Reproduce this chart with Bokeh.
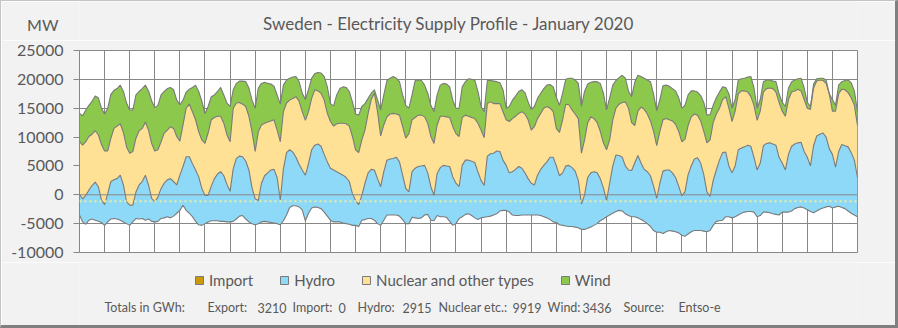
import numpy as np
from bokeh.plotting import figure
from bokeh.layouts import column
from bokeh.models import (ColumnDataSource, Range1d, FixedTicker, Span, Label,
                          Legend, LegendItem, LinearAxis)
from bokeh.embed import file_html
from bokeh.resources import INLINE

# ---------------- data (MW, one sample every 3 h) -------------
title_text = "Sweden - Electricity Supply Profile - January 2020"
unit_label = "MW"
series_names = ["Import", "Hydro", "Nuclear and other types", "Wind"]
series_colors = ["#CC980C", "#8ED8F8", "#FFE195", "#8CC84B"]
y_ticks = [-10000, -5000, 0, 5000, 10000, 15000, 20000, 25000]
y_tick_labels = ["-10000", "-5000", "0", "5000", "10000", "15000", "20000", "25000"]
days_in_month = 31
sample_step_h = 3

totals_title = "Totals in GWh:"
totals_names = ["Export:", "Import:", "Hydro:", "Nuclear etc.:", "Wind:"]
totals_gwh = [3210, 0, 2915, 9919, 3436]
source_title = "Source:"
source_name = "Entso-e"
dotted_level = -1100

# lower edge of the stack (export shown as negative)
export_edge = [
    -3500, -4700, -5100, -4400, -4200, -4400, -4600, -4800,
    -5300, -4700, -4200, -4100, -4200, -4400, -4700, -5000,
    -5300, -4700, -4100, -4200, -4100, -4400, -4200, -4600,
    -4700, -4600, -4100, -4000, -3800, -4000, -3700, -3200,
    -2700, -1800, -2700, -3200, -3800, -4600, -5200, -5300,
    -5000, -4700, -4500, -4500, -4500, -4600, -4600, -4700,
    -4700, -4600, -4200, -3700, -3600, -4200, -4700, -5000,
    -5200, -5000, -4700, -4600, -4700, -4800, -4900, -5000,
    -5200, -4500, -3500, -2200, -1900, -1900, -2100, -2600,
    -4500, -3200, -2300, -2100, -2200, -2400, -3000, -3700,
    -4400, -4700, -4700, -4700, -4900, -5000, -5100, -5300,
    -5300, -5500, -4400, -4300, -4100, -4100, -4400, -5000,
    -5300, -4400, -3500, -3500, -3500, -3500, -3700, -4300,
    -5000, -5000, -3900, -4000, -4100, -4000, -3500, -3400,
    -4400, -4500, -3600, -3800, -3800, -3900, -4600, -5300,
    -5000, -4100, -3800, -3400, -3300, -3600, -4000, -4300,
    -4000, -3900, -3800, -3700, -3500, -3300, -2800, -2700,
    -2700, -3000, -3500, -3600, -3600, -3500, -3500, -3500,
    -3500, -3500, -3500, -3600, -3800, -4000, -4300, -4700,
    -4800, -5200, -5300, -5400, -5500, -5500, -5600, -5700,
    -6000, -6000, -5800, -5600, -5300, -5000, -4500, -4200,
    -3800, -3500, -3200, -2900, -2700, -2800, -3300, -3600,
    -3800, -3800, -4000, -4300, -4600, -5000, -5500, -6200,
    -6500, -6500, -6700, -6400, -6200, -6300, -6400, -6600,
    -7000, -7200, -6800, -6400, -6200, -6200, -6200, -6300,
    -6400, -6200, -5300, -4600, -4500, -4400, -3800, -3800,
    -4000, -3800, -3500, -3200, -3000, -2900, -2900, -3000,
    -3800, -3600, -3000, -3000, -3100, -3300, -3400, -3500,
    -3000, -3000, -3000, -2800, -2400, -2200, -2100, -2300,
    -2600, -2900, -3100, -2800, -2500, -2300, -2100, -2000,
    -2300, -2100, -2000, -2200, -2400, -2800, -3200, -3500,
    -3800,
]

# top of the hydro band
hydro_edge = [
    100, -700, -100, 800, 1600, 2200, 1400, -900,
    -1700, 200, 2300, 2600, 2800, 3400, 1700, -1200,
    -1800, -1800, 500, 1700, 2300, 3400, 1700, -600,
    -1200, -400, 1100, 2000, 2600, 2800, 2300, 1700,
    3400, 4900, 6600, 6600, 5400, 4300, 3100, 1100,
    -100, -100, 1500, 2800, 3600, 4000, 3300, 1800,
    600, 4500, 6300, 6700, 6600, 5800, 4300, 1200,
    -700, -1000, 2000, 3300, 3800, 4300, 4400, 3000,
    -900, 4500, 7300, 7800, 7400, 6500, 5300, 4300,
    3400, 5400, 7800, 8600, 8800, 8400, 7000, 5700,
    4600, 4300, 4000, 3700, 3400, 3000, 2300, 200,
    -1000, -1700, -100, 2000, 3800, 4400, 4300, 2800,
    1400, 4000, 6000, 6200, 6300, 6500, 5700, 3400,
    1100, 500, 4000, 4600, 4900, 5000, 5100, 3800,
    1400, -100, 3700, 4700, 5100, 5000, 4900, 3100,
    2000, 1400, 5100, 6000, 6000, 5800, 5600, 4000,
    2500, 1600, 6700, 7100, 7200, 7600, 7500, 6000,
    5100, 3800, 4000, 4400, 4900, 4600, 3800, 2800,
    2000, 1700, 3400, 4400, 5100, 5700, 6500, 6500,
    5000, 3300, 3800, 5000, 5100, 4700, 4100, 2500,
    -1600, 0, 3000, 3800, 4000, 3800, 2800, 1200,
    -1000, 2000, 5000, 6900, 6800, 6500, 5000, 4300,
    4200, 5500, 6800, 5500, 4400, 4000, 3300, 1500,
    -600, 2000, 4100, 4300, 4300, 3800, 3000, 1500,
    -200, 500, 3500, 5000, 6200, 6400, 5500, 3500,
    500, -300, 2500, 4300, 6000, 7300, 7400, 5000,
    3800, 5000, 7800, 8100, 8300, 8600, 8400, 6500,
    4300, 5500, 8500, 8900, 9000, 8800, 8600, 6500,
    5500, 4300, 7000, 8400, 8800, 9000, 9100, 7500,
    6500, 5000, 8500, 10200, 10500, 10700, 10000, 8000,
    7000, 4800, 7500, 8700, 8500, 8300, 7300, 6000,
    3000,
]

# top of the "nuclear and other types" band
nuclear_edge = [
    9200, 8600, 9200, 10100, 10500, 11100, 10400, 8700,
    7600, 7600, 9800, 11500, 11900, 12300, 10800, 8300,
    7200, 7500, 9800, 11100, 11500, 12600, 11200, 8900,
    7600, 7800, 9200, 10700, 11200, 11800, 11500, 10100,
    9300, 12100, 15000, 15700, 14400, 13000, 10900, 9500,
    8900, 10700, 13000, 13400, 13600, 13600, 12400, 10400,
    9200, 15000, 15900, 16000, 15700, 15300, 13600, 10900,
    7500, 10900, 12100, 12400, 12600, 12800, 13000, 11200,
    9200, 14400, 15900, 16400, 16700, 17000, 16200, 14400,
    12900, 14400, 16700, 18200, 18000, 17600, 16400, 14100,
    12700, 11900, 12300, 12400, 12400, 12300, 11900, 10100,
    7800, 7300, 9500, 11200, 14100, 16500, 17600, 14400,
    10200, 12100, 13500, 14000, 14100, 14000, 13800, 11800,
    9800, 10600, 13000, 13400, 13800, 13800, 13500, 12400,
    10100, 8900, 12100, 13600, 13600, 13500, 13400, 11800,
    10600, 10100, 13400, 13800, 13600, 13400, 13200, 12400,
    11200, 9900, 15800, 16100, 15800, 15800, 15800, 14400,
    13000, 12700, 13200, 13600, 14100, 14400, 14000, 13000,
    11200, 11800, 13200, 14100, 15000, 15300, 15000, 14400,
    11500, 10800, 13000, 15700, 15600, 14700, 14000, 13200,
    7200, 9500, 12500, 13500, 13200, 12500, 11000, 9000,
    7800, 9500, 13000, 15000, 15700, 16000, 16100, 15000,
    12500, 12000, 14500, 15200, 14800, 14000, 12800, 11000,
    8500, 11000, 13000, 13200, 13000, 12800, 12200, 11000,
    9200, 9600, 12000, 13500, 14000, 13800, 12800, 11000,
    9000, 9500, 12500, 14000, 15000, 16500, 17000, 15000,
    12700, 14500, 17500, 18000, 18000, 17800, 17000, 15500,
    12900, 14500, 17800, 18400, 18500, 18400, 17800, 16000,
    14500, 13600, 16500, 17800, 18000, 18300, 18000, 16500,
    15000, 14800, 18500, 19700, 19900, 19800, 19300, 17500,
    14500, 14500, 17500, 18300, 18200, 17700, 16800, 15500,
    12000,
]

# top of the wind band (total)
wind_edge = [
    14100, 13700, 14700, 15500, 16200, 17100, 16800, 15000,
    14000, 15000, 17400, 18100, 18400, 19000, 17900, 15900,
    14700, 14700, 17300, 17900, 18400, 19000, 18000, 16300,
    15100, 15500, 17300, 17900, 18400, 18600, 18200, 16400,
    15600, 16400, 17800, 18300, 18600, 19000, 17900, 16200,
    14100, 15300, 17000, 17300, 17900, 18600, 17300, 15900,
    15300, 18200, 19300, 19700, 19700, 19600, 18500, 16400,
    15000, 18500, 19300, 19500, 19300, 19200, 18800, 17300,
    15700, 19000, 19900, 20200, 20400, 20500, 19600, 17600,
    16500, 18200, 20200, 21000, 21200, 21100, 20500, 18700,
    15800, 15400, 17300, 18400, 18700, 18600, 17900, 16100,
    14000, 13800, 15300, 15800, 16700, 17600, 18200, 16500,
    14700, 17300, 19800, 20200, 20500, 20200, 19600, 17300,
    15500, 15000, 17300, 19800, 19900, 19800, 19000, 17600,
    15500, 14400, 17300, 19000, 19300, 19200, 18700, 16400,
    15000, 15000, 18700, 19600, 20100, 20000, 19900, 17900,
    15300, 14400, 19800, 19800, 19700, 19600, 19400, 18200,
    15000, 15300, 16400, 17100, 17900, 18200, 17700, 16100,
    14800, 15300, 16700, 17600, 18400, 19000, 19100, 18700,
    16900, 15500, 17600, 20000, 20200, 20200, 19900, 19300,
    15300, 17900, 19200, 19500, 19600, 19600, 19300, 17600,
    14700, 16800, 19000, 19800, 20300, 20700, 20200, 18000,
    17000, 19500, 20700, 20500, 20200, 19900, 19600, 17400,
    14600, 16500, 18900, 19000, 18800, 18400, 18000, 16800,
    15000, 15500, 17300, 18000, 18000, 17800, 17200, 16000,
    13800, 13900, 15500, 16800, 17800, 18700, 18600, 17500,
    15000, 16500, 19900, 20100, 20200, 20400, 20500, 18500,
    15000, 16500, 19600, 19900, 19900, 19700, 19600, 17500,
    16000, 15300, 18500, 19600, 19900, 20100, 20200, 18500,
    16000, 15300, 19200, 20100, 20200, 20200, 19900, 17500,
    16500, 15500, 19000, 19600, 19800, 19900, 19400, 18000,
    14400,
]

# ---------------- styling / layout -------------
FONT = "Lato"
TXT = "#595959"
GRID = "#878787"
EDGE = "#7A7A7A"
BG = "#F2F2F2"
W = 894                      # inside a 1px / 3px picture border -> 898 total
BL, BR = 78, 38              # plot frame spans x 78..856 inside every panel
HEAD_H, MAIN_H, FOOT_H = 39, 222, 63
FX0, FX1 = BL, W - BR        # frame extent in canvas pixels


def panel(height):
    f = figure(width=W, height=height, output_backend="svg", toolbar_location=None,
               title=None, x_axis_type=None, y_axis_type=None,
               x_range=Range1d(FX0, FX1), y_range=Range1d(0, height),
               min_border_left=BL, min_border_right=BR,
               min_border_top=0, min_border_bottom=0,
               background_fill_color=BG, border_fill_color=BG)
    f.outline_line_color = None
    return f


# ---------- header: title + unit ----------
head = panel(HEAD_H)
head.add_layout(Label(x=447.5, y=HEAD_H - 22, text=title_text, text_align="center",
                      text_baseline="middle", text_font=FONT, text_font_size="17px",
                      text_color=TXT))
unit_axis = LinearAxis(ticker=FixedTicker(ticks=[HEAD_H - 23]),
                       major_label_overrides={HEAD_H - 23: unit_label},
                       axis_line_color=None, major_tick_line_color=None,
                       minor_tick_line_color=None, major_tick_out=0, major_tick_in=0,
                       major_label_standoff=21, major_label_text_font=FONT,
                       major_label_text_font_size="16px", major_label_text_color=TXT)
head.add_layout(unit_axis, "left")

# ---------- main chart ----------
hours = np.arange(len(wind_edge)) * sample_step_h
src = ColumnDataSource(dict(h=hours, exp=export_edge, hyd=hydro_edge,
                            nuc=nuclear_edge, wnd=wind_edge))
day_ticks = [24 * d for d in range(days_in_month + 1)]

p = figure(width=W, height=MAIN_H, output_backend="svg", toolbar_location=None,
           title=None,
           x_range=Range1d(0, days_in_month * 24),
           y_range=Range1d(y_ticks[0], y_ticks[-1]),
           min_border_left=BL, min_border_right=BR,
           min_border_top=10, min_border_bottom=10,
           background_fill_color="white", border_fill_color=BG)
p.outline_line_color = GRID
p.outline_line_width = 1

p.xaxis.visible = False
p.xaxis.ticker = FixedTicker(ticks=day_ticks)
p.xgrid.ticker = FixedTicker(ticks=day_ticks)
p.xgrid.grid_line_color = GRID
p.ygrid.grid_line_color = GRID

p.yaxis.ticker = FixedTicker(ticks=y_ticks)
p.yaxis.major_label_overrides = {t: s for t, s in zip(y_ticks, y_tick_labels)}
p.yaxis.axis_line_color = GRID
p.yaxis.major_tick_line_color = GRID
p.yaxis.major_tick_out = 6
p.yaxis.major_tick_in = 0
p.yaxis.minor_tick_line_color = None
p.yaxis.major_label_text_font = FONT
p.yaxis.major_label_text_font_size = "16px"
p.yaxis.major_label_text_color = TXT
p.yaxis.major_label_standoff = 10

p.varea(x="h", y1="exp", y2="hyd", source=src, fill_color=series_colors[1])
p.varea(x="h", y1="hyd", y2="nuc", source=src, fill_color=series_colors[2])
p.varea(x="h", y1="nuc", y2="wnd", source=src, fill_color=series_colors[3])
for col in ["exp", "hyd", "nuc", "wnd"]:
    p.line(x="h", y=col, source=src, line_color=EDGE, line_width=1.1)

p.add_layout(Span(location=0, dimension="width", line_color=GRID, line_width=1))
p.add_layout(Span(location=dotted_level, dimension="width", line_color="#E9EE9E",
                  line_width=2, line_dash="2 3"))

# ---------- footer: legend + totals ----------
foot = panel(FOOT_H)
nan = float("nan")
proxy = ColumnDataSource(dict(l=[nan], r=[nan], b=[nan], t=[nan]))
items = []
for name, colr in zip(series_names, series_colors):
    r = foot.quad(left="l", right="r", bottom="b", top="t", source=proxy,
                  fill_color=colr, line_color=EDGE, line_width=1)
    items.append(LegendItem(label=name, renderers=[r]))
legend = Legend(items=items, location=(193 - FX0, 36), orientation="horizontal",
                background_fill_alpha=0, border_line_color=None,
                padding=0, margin=0, spacing=26, glyph_width=10, glyph_height=10,
                label_standoff=5, label_text_font=FONT, label_text_font_size="15px",
                label_text_color=TXT)
foot.add_layout(legend)

# totals line: each word group placed where it sits in the picture (x in px)
footer_texts = [totals_title]
for n, v in zip(totals_names, totals_gwh):
    footer_texts += [n, str(v)]
footer_texts += [source_title, source_name]
footer_x = [103, 206, 256, 291, 337, 356, 401, 437, 511, 546, 581, 622, 677]
for t, fx in zip(footer_texts, footer_x):
    foot.add_layout(Label(x=fx, y=FOOT_H - 45, text=t, text_align="left",
                          text_baseline="middle", text_font=FONT,
                          text_font_size="12.5px", text_color=TXT))

page = column(head, p, foot, spacing=0,
              styles={"border-left": "1px solid #C4C4C4",
                      "border-top": "1px solid #C4C4C4",
                      "border-right": "3px solid #808080",
                      "border-bottom": "3px solid #808080"})

open("out.html", "w").write(file_html(page, INLINE))
